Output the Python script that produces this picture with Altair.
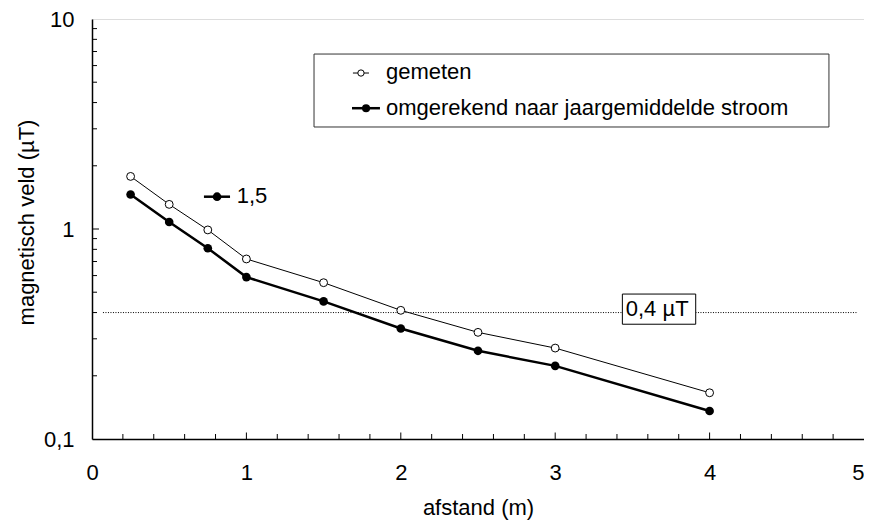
import altair as alt
import pandas as pd

# ---- data ----
afstand = [0.25, 0.5, 0.75, 1.0, 1.5, 2.0, 2.5, 3.0, 4.0]
gemeten = [1.78, 1.31, 0.99, 0.72, 0.555, 0.41, 0.322, 0.271, 0.166]
omgerekend = [1.46, 1.08, 0.81, 0.59, 0.452, 0.336, 0.263, 0.223, 0.136]
series_names = ["gemeten", "omgerekend naar jaargemiddelde stroom"]

x_ticks = [0, 1, 2, 3, 4, 5]
x_minor = [0.2, 0.4, 0.6, 0.8, 1.2, 1.4, 1.6, 1.8, 2.2, 2.4, 2.6, 2.8,
           3.2, 3.4, 3.6, 3.8, 4.2, 4.4, 4.6, 4.8]
x_major = [1, 2, 3, 4]
y_ticks = [0.1, 1, 10]
y_minor = [0.2, 0.3, 0.4, 0.5, 0.6, 0.7, 0.8, 0.9, 2, 3, 4, 5, 6, 7, 8, 9]
y_major = [1]

ref_value = 0.4
ref_label = "0,4 µT"
factor_label = "1,5"

FONT = "Liberation Sans"
FS = 22

W, H = 772, 420

xs = alt.Scale(domain=[0, 5], nice=False, zero=False)
ys = alt.Scale(type="log", domain=[0.1, 10], nice=False)

x_axis = alt.Axis(values=x_ticks, ticks=False, grid=False, domainColor="black",
                  domainWidth=1.5, labelPadding=23, labelFontSize=FS, labelFont=FONT,
                  labelColor="black", labelFlush=False, labelOverlap=False,
                  labelAlign={"condition": {"test": "datum.value == 5", "value": "right"},
                              "value": "center"},
                  title="afstand (m)", titleFont=FONT,
                  titleFontSize=FS, titleFontWeight="normal", titleColor="black",
                  titleX=W / 2, titleY=75, titleBaseline="alphabetic", titleAlign="center",
                  format="d")
y_axis = alt.Axis(values=y_ticks, ticks=False, grid=False, domainColor="black",
                  domainWidth=1.5, labelPadding=18, labelFontSize=FS, labelFont=FONT,
                  labelColor="black", labelFlush=False, labelOverlap=False,
                  labelExpr="replace(toString(datum.value), '.', ',')",
                  title="magnetisch veld (µT)", titleFont=FONT, titleFontSize=FS,
                  titleFontWeight="normal", titleColor="black", titleX=-54, titleY=203,
                  titleAngle=-90, titleAlign="center", titleBaseline="bottom")

X = lambda f="x", **kw: alt.X(f"{f}:Q", scale=xs, **kw)
Y = lambda f="y", **kw: alt.Y(f"{f}:Q", scale=ys, **kw)

df = pd.DataFrame({"x": afstand, "g": gemeten, "o": omgerekend})

base_axes = alt.Chart(df).mark_line(opacity=0).encode(
    x=alt.X("x:Q", scale=xs, axis=x_axis),
    y=alt.Y("g:Q", scale=ys, axis=y_axis),
)

# reference line 0,4 µT
ref_df = pd.DataFrame({"x": [0.071], "x2": [4.961], "y": [ref_value]})
ref_line = alt.Chart(ref_df).mark_rule(color="black", strokeWidth=1, strokeDash=[1, 1.5]).encode(
    x=X(), x2="x2:Q", y=Y())
ref_box_df = pd.DataFrame({"x": [3.435], "x2": [3.91], "y": [0.490], "y2": [0.352]})
ref_box = alt.Chart(ref_box_df).mark_rect(fill="white", stroke="black", strokeWidth=1).encode(
    x=X(), x2="x2:Q", y=Y(), y2="y2:Q")
ref_text = alt.Chart(pd.DataFrame({"x": [3.457], "y": [0.385], "t": [ref_label]})).mark_text(
    align="left", baseline="alphabetic", font=FONT, fontSize=FS, color="black").encode(
    x=X(), y=Y(), text="t:N")

line_g = alt.Chart(df).mark_line(color="black", strokeWidth=1).encode(x=X(), y=Y("g"))
line_o = alt.Chart(df).mark_line(color="black", strokeWidth=2.5).encode(x=X(), y=Y("o"))
pts_g = alt.Chart(df).mark_point(shape="circle", filled=True, fill="white", stroke="black",
                                 strokeWidth=1, size=62, opacity=1).encode(x=X(), y=Y("g"))
pts_o = alt.Chart(df).mark_circle(color="black", size=75, opacity=1).encode(x=X(), y=Y("o"))

# legend box
leg_box = alt.Chart(pd.DataFrame({"x": [1.438], "x2": [4.773], "y": [6.81], "y2": [3.06]})).mark_rect(
    fill="white", stroke="#333", strokeWidth=1).encode(x=X(), x2="x2:Q", y=Y(), y2="y2:Q")
leg_lines = alt.Chart(pd.DataFrame({"x": [1.690, 1.684], "x2": [1.794, 1.865],
                                    "y": [5.53, 3.76], "w": [1.0, 2.5]})).mark_rule(color="black").encode(
    x=X(), x2="x2:Q", y=Y(), strokeWidth=alt.StrokeWidth("w:Q", scale=None, legend=None))
leg_pt_g = alt.Chart(pd.DataFrame({"x": [1.742], "y": [5.53]})).mark_point(
    shape="circle", filled=True, fill="white", stroke="black", strokeWidth=1, size=40, opacity=1).encode(
    x=X(), y=Y())
leg_pt_o = alt.Chart(pd.DataFrame({"x": [1.775], "y": [3.76]})).mark_circle(
    color="black", size=65, opacity=1).encode(x=X(), y=Y())
leg_text = alt.Chart(pd.DataFrame({"x": [1.904, 1.904], "y": [5.18, 3.49], "t": series_names})).mark_text(
    align="left", baseline="alphabetic", font=FONT, fontSize=FS, color="black").encode(
    x=X(), y=Y(), text="t:N")

# 1,5 annotation
ann_line = alt.Chart(pd.DataFrame({"x": [0.725], "x2": [0.894], "y": [1.425]})).mark_rule(
    color="black", strokeWidth=2.5).encode(x=X(), x2="x2:Q", y=Y())
ann_pt = alt.Chart(pd.DataFrame({"x": [0.81], "y": [1.425]})).mark_circle(
    color="black", size=75, opacity=1).encode(x=X(), y=Y())
ann_text = alt.Chart(pd.DataFrame({"x": [0.937], "y": [1.33], "t": [factor_label]})).mark_text(
    align="left", baseline="alphabetic", font=FONT, fontSize=FS, color="black").encode(
    x=X(), y=Y(), text="t:N")

# inward ticks
xt_minor = alt.Chart(pd.DataFrame({"x": x_minor})).mark_rule(color="black", strokeWidth=1).encode(
    x=X(), y=alt.value(H), y2=alt.value(H - 5))
xt_major = alt.Chart(pd.DataFrame({"x": x_major})).mark_rule(color="black", strokeWidth=1).encode(
    x=X(), y=alt.value(H), y2=alt.value(H - 6.5))
yt_minor = alt.Chart(pd.DataFrame({"y": y_minor})).mark_rule(color="black", strokeWidth=1).encode(
    y=Y(), x=alt.value(0), x2=alt.value(5))
yt_major = alt.Chart(pd.DataFrame({"y": y_major})).mark_rule(color="black", strokeWidth=1).encode(
    y=Y(), x=alt.value(0), x2=alt.value(7))

chart = alt.layer(
    base_axes, ref_line, ref_box, ref_text, line_g, line_o, pts_g, pts_o,
    leg_box, leg_lines, leg_pt_g, leg_pt_o, leg_text,
    ann_line, ann_pt, ann_text,
    xt_minor, xt_major, yt_minor, yt_major,
).properties(
    width=W, height=H,
    autosize=alt.AutoSizeParams(type="none"),
    padding={"left": 84, "top": 11, "right": 0, "bottom": 81},
).configure_view(
    stroke="#333", strokeWidth=1
).configure(background="white")

chart.save("out.html", embed_options={"renderer": "svg", "actions": False})
